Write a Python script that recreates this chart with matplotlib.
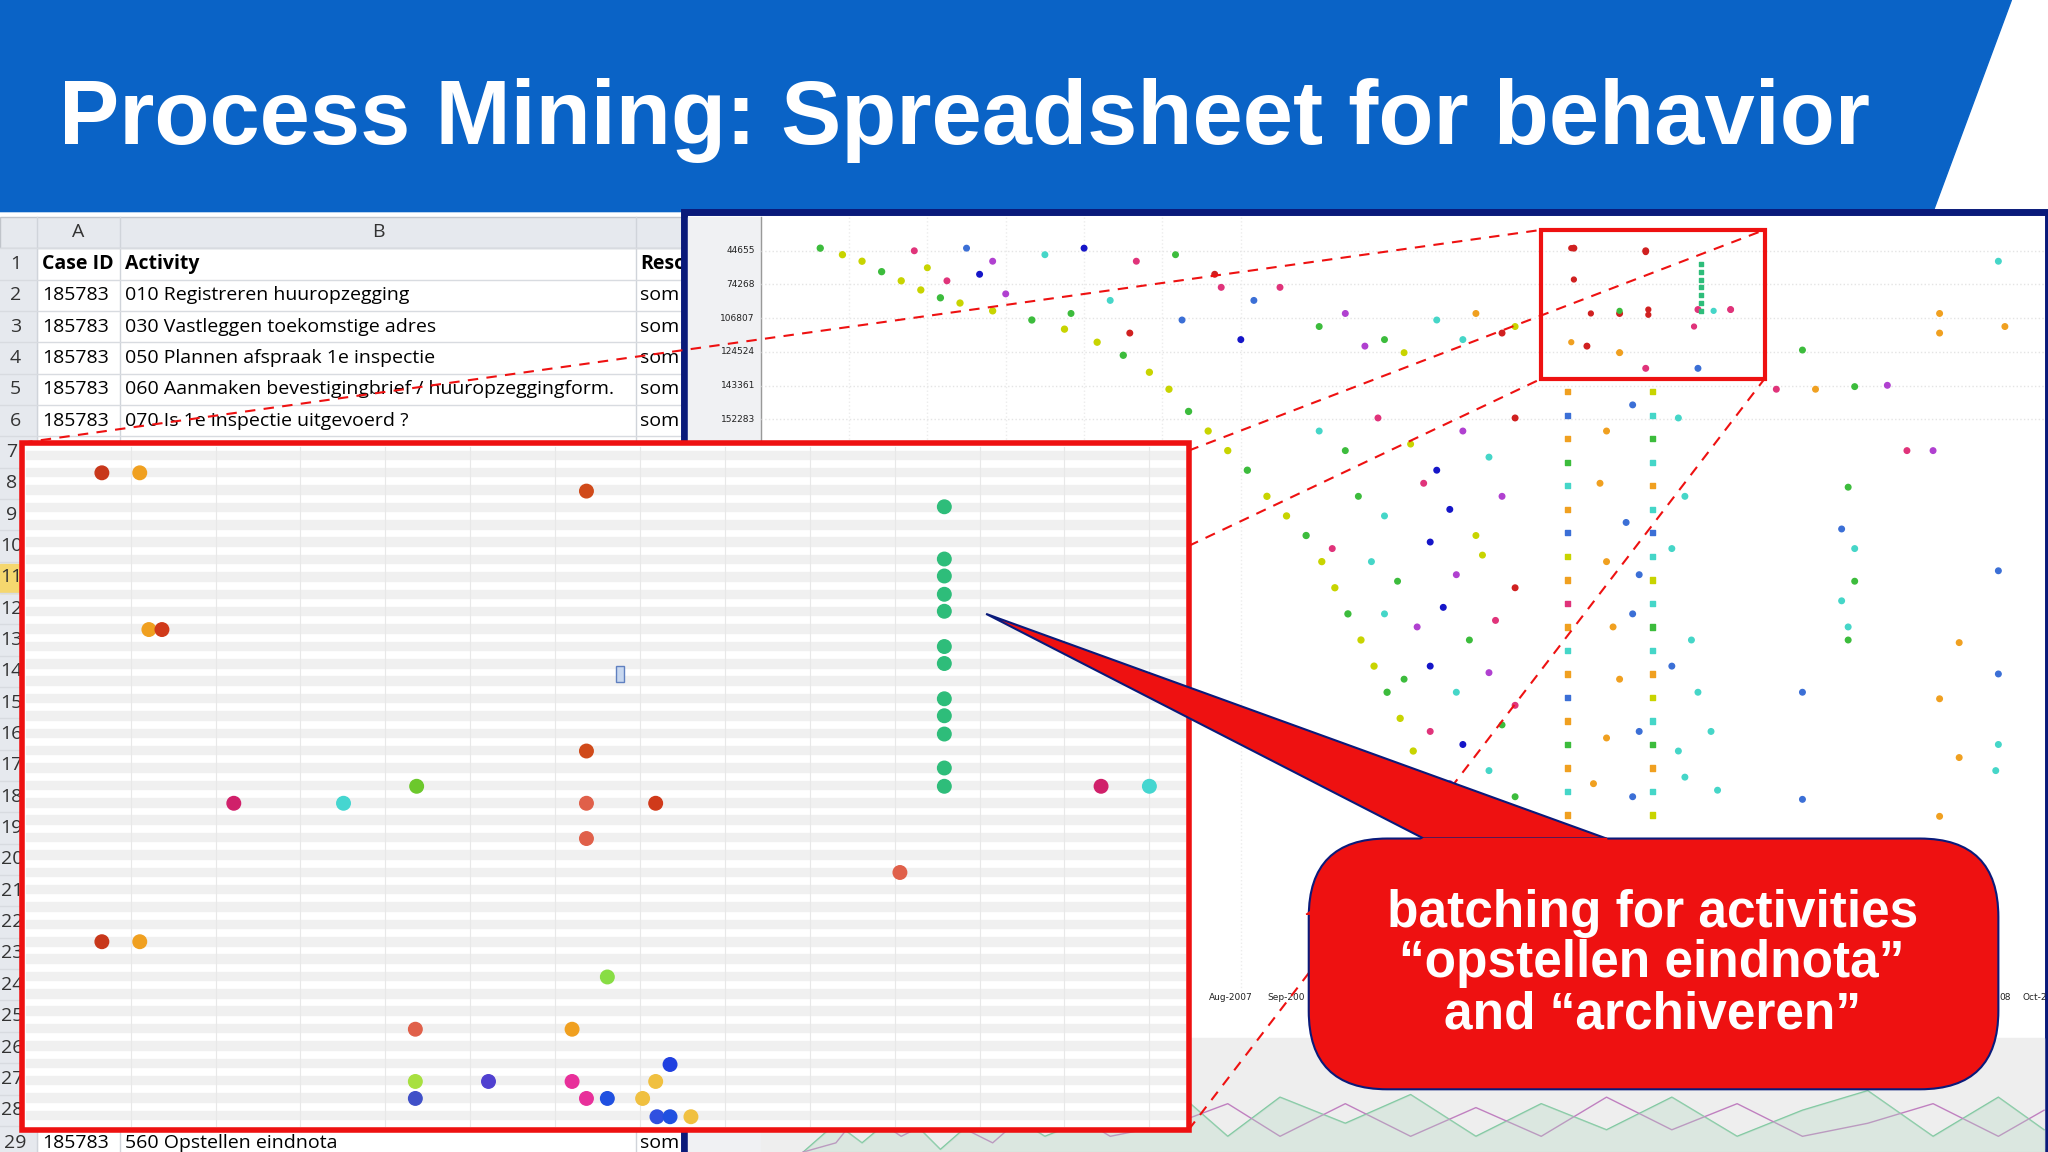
import matplotlib
matplotlib.use("Agg")
import matplotlib.pyplot as plt
from matplotlib.patches import Rectangle, Polygon, FancyBboxPatch

title = "Process Mining: Spreadsheet for behavior"
rows = [("1", "Case ID", "Activity", "Reso"),
        ("2", "185783", "010 Registreren huuropzegging", "som"),
        ("3", "185783", "030 Vastleggen toekomstige adres", "som"),
        ("4", "185783", "050 Plannen afspraak 1e inspectie", "som"),
        ("5", "185783", "060 Aanmaken bevestigingbrief / huuropzeggingform.", "som"),
        ("6", "185783", "070 Is 1e inspectie uitgevoerd ?", "som")]
row29 = ("29", "185783", "560 Opstellen eindnota", "som")
ytick_labels = ["44655", "74268", "106807", "124524", "143361", "152283"]
xtick_labels = ["Aug-2007", "Sep-200", "08", "Oct-2"]
callout = "batching for activities\n\u201copstellen eindnota\u201d\nand \u201carchiveren\u201d"

pal = ['#c8d400', '#3b6fd6', '#45d6c8', '#e0337a', '#b040d0', '#3cbc3c', '#1515c8', '#f0a020', '#d02020']

# inset (zoomed) events: x, y, colour
inset_x = [78, 107, 449, 723, 723, 723, 723, 723, 723, 723, 723, 723, 723, 723, 723,
           114, 124, 449, 179, 263, 319, 449, 502, 843, 880, 449, 689, 78, 107, 465,
           318, 438, 513, 318, 374, 438, 502, 318, 449, 465, 492, 503, 513, 529]
inset_y = [362, 362, 376, 388, 428, 441, 455, 468, 495, 508, 535, 548, 562, 588, 602,
           482, 482, 575, 615, 615, 602, 615, 615, 602, 602, 642, 668, 721, 721, 748,
           788, 788, 815, 828, 828, 828, 828, 841, 841, 841, 841, 855, 855, 855]
inset_c = ['#c8371a', '#f0a020', '#d04a1a', '#2ebd7a'] + ['#2ebd7a'] * 11 + \
          ['#f0a020', '#d03a1a', '#d04a1a', '#d0206a', '#45d6d0', '#6cc82c', '#e0604a', '#d03a1a',
           '#d0206a', '#45d6d0', '#e0604a', '#e0604a', '#c8371a', '#f0a020', '#88dd44',
           '#e0604a', '#f0a020', '#2040e0', '#a8e040', '#5040d0', '#e8309a', '#f0c040', '#4050c8',
           '#e8309a', '#2050e0', '#f0c040', '#3050e0', '#2050e0', '#f0c040']

# background dotted chart events
diag_x = [628, 645, 660, 675, 690, 705, 720, 735, 760, 790, 815, 840, 860, 880, 895, 910, 925, 940,
          955, 970, 985, 1000, 1012, 1022, 1032, 1042, 1052, 1062, 1072, 1082, 1092]
diag_y = [190, 195, 200, 208, 215, 222, 228, 232, 238, 245, 252, 262, 272, 285, 298, 315, 330, 345,
          360, 380, 395, 410, 430, 450, 470, 490, 510, 530, 550, 575, 600]
scat_x = [700, 740, 760, 800, 830, 870, 900, 930, 960, 980, 1030, 1060, 1100, 1130, 1160, 1530, 1485,
          1485, 1535, 1380, 1360, 1390, 1420, 1445, 1460, 1480, 1415, 1410, 1420, 1420, 1410, 1415, 1415,
          1500, 1530, 1530, 1530, 1528, 1500, 1485, 1485, 1380, 1380,
          710, 725, 750, 770, 820, 850, 865, 905, 935, 950, 1010, 1045, 1075, 1120, 1150, 1205, 1240,
          1260, 1300, 1325, 1215, 1240, 1260, 1300,
          1010, 1030, 1055, 1080, 1100, 1120, 1140, 1160, 1230, 1250, 1285,
          1040, 1060, 1090, 1110, 1130, 1150, 1225, 1245, 1290,
          1020, 1050, 1070, 1095, 1115, 1135, 1160, 1230, 1255, 1280,
          1060, 1085, 1105, 1125, 1145, 1235, 1250, 1295,
          1075, 1095, 1115, 1140, 1160, 1240, 1280, 1300,
          1095, 1120, 1150, 1230, 1255, 1285, 1310,
          1110, 1140, 1160, 1220, 1250, 1290, 1315]
scat_y = [192, 190, 200, 195, 190, 200, 195, 210, 230, 220, 240, 260, 245, 240, 250, 200, 240,
          255, 250, 268, 298, 298, 296, 295, 345, 345, 373, 405, 420, 445, 460, 480, 490,
          492, 437, 516, 570, 590, 580, 535, 625, 530, 612,
          205, 215, 210, 225, 240, 230, 255, 245, 220, 260, 250, 265, 270, 260, 255, 190, 240,
          192, 237, 237, 265, 270, 282, 282,
          330, 345, 320, 340, 360, 330, 350, 320, 330, 310, 320,
          380, 395, 370, 390, 410, 380, 370, 400, 380,
          420, 430, 445, 415, 440, 425, 450, 430, 440, 420,
          470, 480, 465, 490, 475, 480, 470, 490,
          520, 510, 530, 515, 540, 520, 510, 530,
          560, 570, 555, 565, 560, 575, 560,
          600, 590, 610, 600, 610, 595, 605]
scat_c = [3, 1, 4, 2, 6, 3, 5, 8, 1, 3, 4, 5, 2, 7, 0, 2, 7, 7, 7, 5, 3, 7, 5, 4, 3, 4, 5, 1, 2, 5, 2, 2, 5,
          7, 1, 1, 2, 2, 7, 7, 7, 1, 1,
          0, 3, 6, 4, 5, 2, 8, 1, 3, 6, 5, 4, 0, 2, 8, 8, 8, 8, 3, 3, 8, 7, 3, 1,
          2, 5, 3, 0, 6, 4, 2, 8, 7, 1, 2,
          5, 2, 3, 6, 0, 4, 7, 1, 2,
          3, 2, 5, 6, 4, 0, 8, 7, 1, 2,
          2, 4, 6, 5, 3, 7, 1, 2,
          5, 6, 2, 4, 3, 7, 1, 2,
          3, 6, 5, 7, 1, 2, 2,
          4, 2, 5, 7, 1, 2, 2]
col_y = [300, 318, 336, 354, 372, 390, 408, 426, 444, 462, 480, 498, 516, 534, 552, 570, 588, 606, 624]
col1_c = [7, 1, 7, 5, 2, 7, 1, 0, 7, 3, 7, 2, 7, 1, 7, 5, 7, 2, 7]
col2_c = [0, 2, 5, 2, 7, 2, 1, 2, 0, 2, 5, 2, 7, 0, 2, 5, 7, 2, 0]
box_x = [1203, 1260, 1205, 1262, 1218, 1240, 1262, 1203, 1240, 1325, 1312, 1297]
box_y = [190, 193, 214, 241, 240, 238, 237, 262, 270, 237, 238, 250]
box_c = [8, 8, 8, 8, 8, 5, 8, 7, 7, 3, 2, 3]
teal_y = [202, 208, 214, 220, 226, 232, 238]

fig = plt.figure(figsize=(20.48, 11.52), dpi=100)
ax = fig.add_axes([0, 0, 1, 1])
ax.set_xlim(0, 1568)
ax.set_ylim(882, 0)
ax.axis('off')

# title bar
ax.add_patch(Polygon([(0, 0), (1540, 0), (1480, 162), (0, 162)], closed=True, color='#0a63c6', zorder=1))
ax.text(45, 92, title, color='white', fontsize=65, fontweight='bold', family='Liberation Sans',
        va='center', ha='left', zorder=2)

# spreadsheet
ax.add_patch(Rectangle((0, 166), 524, 716, color='white', zorder=1))
ax.add_patch(Rectangle((0, 166), 524, 24, color='#e6e9ee', ec='#c0c4ca', zorder=2))
ax.add_patch(Rectangle((0, 190), 28, 692, color='#e6e9ee', zorder=2))
ax.add_patch(Rectangle((0, 432), 17, 22, color='#f5d76e', zorder=2))
for xv in [28, 92, 487]:
    ax.plot([xv, xv], [166, 882], color='#d0d4da', lw=1, zorder=2)
for k in range(29):
    ax.plot([0, 524], [190 + 24 * k, 190 + 24 * k], color='#d8dbe0', lw=1, zorder=2)
ax.text(60, 178, "A", fontsize=14, family='Open Sans', ha='center', va='center', color='#333', zorder=3)
ax.text(290, 178, "B", fontsize=14, family='Open Sans', ha='center', va='center', color='#333', zorder=3)
for i, (n, a, b, c) in enumerate(rows + [row29]):
    y = 202 + 24 * i if i < 6 else 875
    fw = 'bold' if i == 0 else 'normal'
    ax.text(12, y, n, fontsize=14, family='Open Sans', ha='center', va='center', color='#333', zorder=3)
    ax.text(32, y, a, fontsize=14, family='Open Sans', fontweight=fw, va='center', zorder=3)
    ax.text(96, y, b, fontsize=14, family='Open Sans', fontweight=fw, va='center', zorder=3)
    ax.text(490, y, c, fontsize=14, family='Open Sans', fontweight=fw, va='center', zorder=3)
for k in range(7, 29):
    ax.text(9, 202 + 24 * (k - 1), str(k), fontsize=14, family='Open Sans', ha='center', va='center',
            color='#333', zorder=3)

# right dotted chart panel
ax.add_patch(Rectangle((524, 162), 1044, 720, color='white', ec='#0a1a7a', lw=5, zorder=3))
ax.add_patch(Rectangle((527, 166), 56, 716, color='#f0f1f3', zorder=3))
ax.plot([583, 583], [166, 760], color='#999', lw=1, zorder=3)
for k, lab in enumerate(ytick_labels):
    y = 192 + 25.8 * k
    ax.text(578, y, lab, fontsize=6.5, ha='right', va='center', zorder=4, color='#222')
    ax.plot([583, 1565], [y, y], color='#e4e4e4', lw=1, ls=':', zorder=3)
for xv in [650, 710, 770, 830, 890, 950]:
    ax.plot([xv, xv], [166, 760], color='#ececec', lw=1, ls=':', zorder=3)
for xv, lab in zip([942, 985, 1535, 1558], xtick_labels):
    ax.text(xv, 764, lab, fontsize=6.5, ha='center', va='center', zorder=4, color='#222')
ax.add_patch(Rectangle((583, 795), 982, 87, color='#eeeeee', zorder=3))
wave_x = [615, 640, 660, 690, 720, 760, 800, 850, 900, 940, 980, 1030, 1080, 1130, 1180, 1230, 1280,
          1330, 1380, 1430, 1480, 1530, 1565]
wave_a = [882, 860, 875, 850, 880, 845, 870, 850, 835, 870, 840, 860, 838, 870, 845, 865, 840, 870,
          850, 835, 870, 840, 865]
wave_b = [882, 875, 850, 870, 855, 875, 840, 870, 860, 845, 870, 845, 870, 848, 870, 840, 865, 845,
          870, 860, 845, 870, 850]
ax.plot(wave_x, wave_a, color='#7ec8a0', lw=1, zorder=4)
ax.plot(wave_x, wave_b, color='#c080c0', lw=1, zorder=4)
ax.fill_between(wave_x, wave_a, 882, color='#b0d8c0', alpha=0.3, zorder=4)

ax.scatter(diag_x, diag_y, s=18, c=[pal[0] if i % 3 else pal[5] for i in range(len(diag_x))], zorder=5)
ax.scatter(scat_x, scat_y, s=16, c=[pal[i] for i in scat_c], zorder=5)
ax.scatter([1200] * len(col_y), col_y, s=14, c=[pal[i] for i in col1_c], marker='s', zorder=5)
ax.scatter([1265] * len(col_y), col_y, s=14, c=[pal[i] for i in col2_c], marker='s', zorder=5)
ax.scatter(box_x, box_y, s=12, c=[pal[i] for i in box_c], zorder=5)
ax.scatter([1302] * len(teal_y), teal_y, s=12, c='#2ebd7a', marker='s', zorder=5)

# zoom box and guide lines
ax.add_patch(Rectangle((1180, 176), 171, 114, fill=False, ec='#ee1111', lw=3, zorder=6))
for (x0, y0), (x1, y1) in [((17, 339), (1180, 176)), ((910, 345), (1351, 176)),
                           ((910, 418), (1180, 290)), ((910, 865), (1351, 290))]:
    ax.plot([x0, x1], [y0, y1], color='#ee1111', lw=1.5, ls=(0, (5, 4)), zorder=6)

# inset
ax.add_patch(Rectangle((17, 339), 893, 526, color='white', zorder=7))
for k in range(40):
    y = 345 + 13.3 * k
    if y < 860:
        ax.add_patch(Rectangle((20, y), 887, 6.5, color='#f0f0f0', zorder=7))
for xv in [100, 165, 230, 295, 360, 425, 490, 555, 620, 685, 750, 815, 880]:
    ax.plot([xv, xv], [342, 862], color='#e8e8e8', lw=0.8, zorder=7)
ax.scatter(inset_x, inset_y, s=95, c=inset_c, zorder=8)
ax.add_patch(Rectangle((472, 510), 6, 12, fc='#c8d8f0', ec='#6080c0', lw=1, zorder=8))
ax.add_patch(Rectangle((17, 339), 893, 526, fill=False, ec='#ee1111', lw=4, zorder=9))

# callout
ax.add_patch(Polygon([(755, 470), (1090, 642), (1230, 642)], closed=True, fc='#ee1111', ec='#0a1a7a',
                     lw=1.5, zorder=10))
ax.add_patch(FancyBboxPatch((1002, 642), 528, 192, boxstyle="round,pad=0,rounding_size=60",
                            fc='#ee1111', ec='#0a1a7a', lw=1.5, zorder=10))
ax.add_patch(Polygon([(1000, 700), (1090, 642), (1230, 642), (1240, 700)], closed=True,
                     color='#ee1111', zorder=11))
ax.text(1265, 738, callout, color='white', fontsize=37, fontweight='bold', family='Liberation Sans',
        ha='center', va='center', linespacing=1.05, zorder=12)

fig.savefig("out.png", dpi=100)
